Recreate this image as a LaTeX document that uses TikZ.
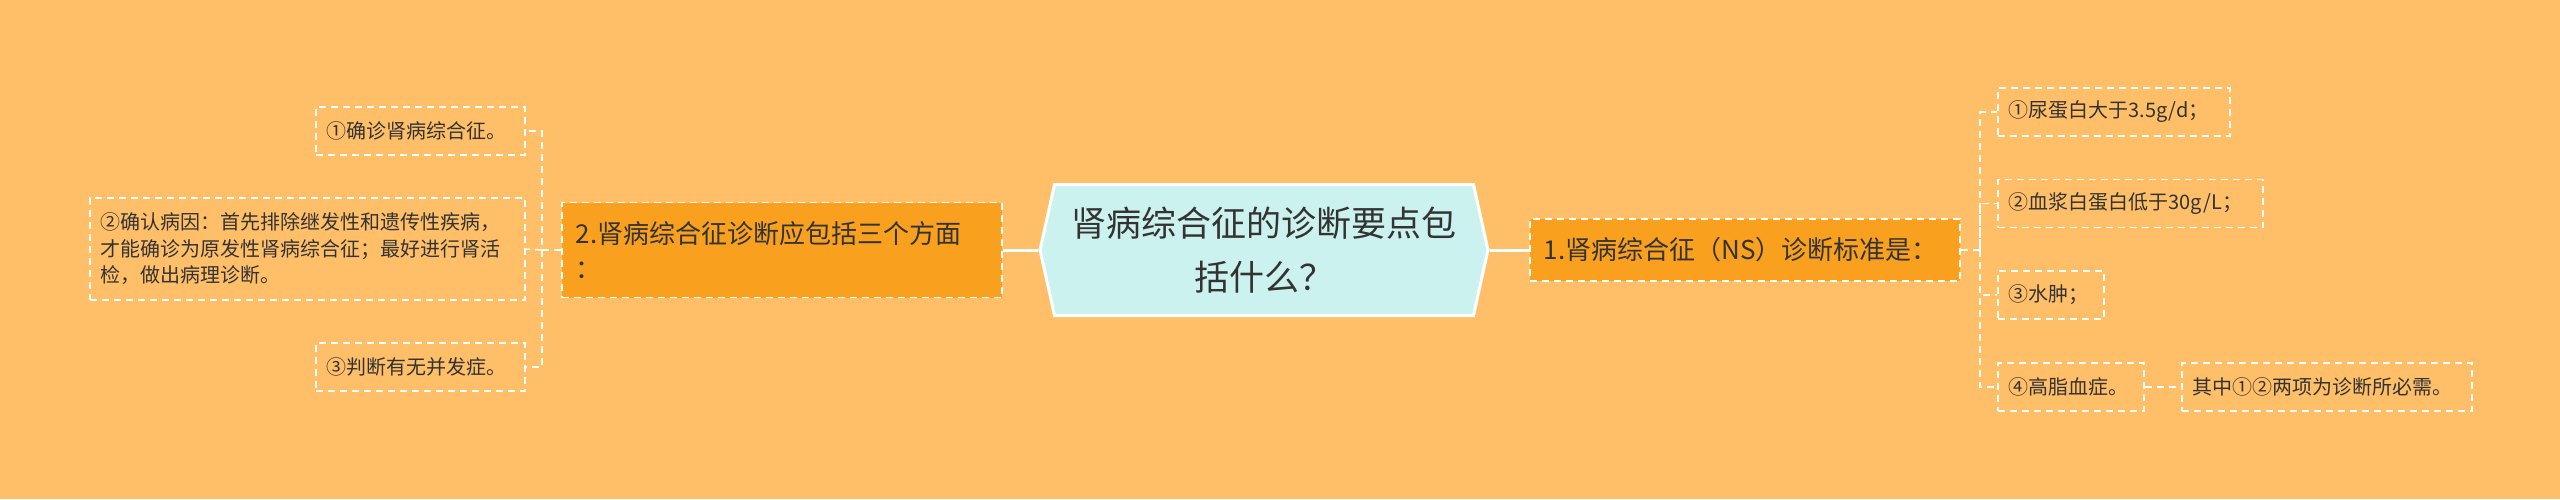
\documentclass[tikz,border=0pt]{standalone}
\usepackage{fontspec}
\setmainfont{Noto Sans CJK SC}
\usetikzlibrary{shapes.symbols}
\definecolor{bgcol}{HTML}{FFBF69}
\definecolor{branchcol}{HTML}{F9A11F}
\definecolor{rootcol}{HTML}{CCF2F0}
\definecolor{txtcol}{HTML}{333333}
\begin{document}
\begin{tikzpicture}[x=1pt,y=-1pt,
    root/.style={signal,signal to=west and east,signal pointer angle=155,draw=white,line width=3pt,fill=rootcol,minimum width=448pt,minimum height=131pt,text width=400pt,align=center,text=txtcol,font=\fontsize{35}{54}\selectfont},
    branch/.style={draw=white,dash pattern=on 7pt off 5pt,line width=1.5pt,fill=branchcol,inner xsep=14pt,inner ysep=0pt,align=left,text=txtcol,font=\fontsize{26}{35}\selectfont},
    leaf/.style={draw=white,dash pattern=on 7pt off 5pt,line width=1.5pt,inner xsep=11pt,inner ysep=0pt,minimum height=48pt,align=left,text=txtcol,font=\fontsize{20}{26.5}\selectfont},
    link/.style={draw=white,line width=3pt},
    sublink/.style={draw=white,dash pattern=on 7pt off 5pt,line width=1.5pt}]
    \fill[bgcol] (0,0) rectangle (2560,499);
    %NODE
    \node[root] (C) at (1264,250){肾病综合征的诊断要点包\\括什么？};
    \node[branch,anchor=west,text width=412pt,minimum height=95pt] (B2) at (561,250){2.肾病综合征诊断应包括三个方面\\：};
    \node[branch,anchor=west,text width=402pt,minimum height=62pt] (B1) at (1529,250){1.肾病综合征（NS）诊断标准是：};
    \node[leaf,anchor=west,text width=187pt] (l1) at (315,131){①确诊肾病综合征。};
    \node[leaf,anchor=west,text width=413pt,minimum height=102pt] (l2) at (89,249){②确认病因：首先排除继发性和遗传性疾病，\\才能确诊为原发性肾病综合征；最好进行肾活\\检，做出病理诊断。};
    \node[leaf,anchor=west,text width=187pt] (l3) at (315,367){③判断有无并发症。};
    \node[leaf,anchor=west,text width=210pt] (r1) at (1997,112){①尿蛋白大于3.5g/d；};
    \node[leaf,anchor=west,text width=243pt] (r2) at (1997,203.5){②血浆白蛋白低于30g/L；};
    \node[leaf,anchor=west,text width=84pt] (r3) at (1997,295){③水肿；};
    \node[leaf,anchor=west,text width=124pt] (r4) at (1997,387){④高脂血症。};
    \node[leaf,anchor=west,text width=268pt] (n4) at (2181,387){其中①②两项为诊断所必需。};
    \coordinate (L) at (542,250);
    \coordinate (R) at (1980,250);

    %EDGE
    \draw[link] (C.west) -- (B2.east);
    \draw[link] (C.east) -- (B1.west);
    \draw[sublink] (B2.west) -- (L) |- (l1.east);
    \draw[sublink] (L) -- (l2.east);
    \draw[sublink] (L) |- (l3.east);
    \draw[sublink] (B1.east) -- (R) |- (r1.west);
    \draw[sublink] (R) |- (r2.west);
    \draw[sublink] (R) |- (r3.west);
    \draw[sublink] (R) |- (r4.west);
    \draw[sublink] (r4.east) -- (n4.west);
\end{tikzpicture}
\end{document}
